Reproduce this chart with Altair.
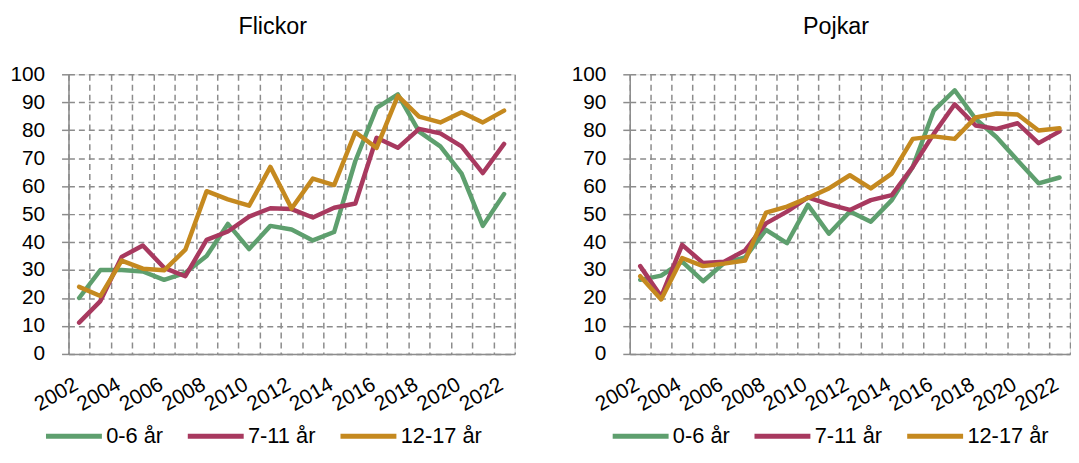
import altair as alt
import pandas as pd

years = list(range(2002, 2023))
groups = ["0-6 år", "7-11 år", "12-17 år"]
colors = ["#5E9F6E", "#A8395F", "#C5891F"]

flickor_0_6 = [20, 30, 30, 29.5, 26.5, 29, 35, 46.5, 37.5, 45.8, 44.5, 40.6, 43.6, 69, 88, 92.8, 79.5, 74.2, 64.5, 45.8, 57.2]
flickor_7_11 = [11.2, 18.9, 34.7, 38.8, 30.8, 27.8, 40.8, 43.8, 49.1, 52.1, 51.8, 48.8, 52.3, 53.8, 77.3, 73.7, 80.5, 78.9, 74.2, 64.7, 75.1]
flickor_12_17 = [24, 20.7, 33.4, 30.5, 29.9, 37.3, 58.2, 55.3, 53, 66.9, 52, 62.7, 60.4, 79.3, 73.7, 92.3, 84.9, 82.8, 86.4, 82.8, 87]

pojkar_0_6 = [26.5, 28, 33, 26, 32.5, 34.5, 44.4, 39.6, 53.3, 43, 50.9, 47.3, 55, 66.9, 87, 94.3, 84, 77.5, 69.2, 61, 63.1]
pojkar_7_11 = [31.4, 20.5, 39, 32.5, 33, 37, 46.7, 50.9, 56, 53.5, 51.5, 55, 56.8, 66.9, 78.7, 89.3, 81.7, 80.5, 82.5, 75.4, 79.6]
pojkar_12_17 = [27.8, 19.5, 34.3, 31.4, 32.3, 33.4, 50.5, 52.7, 55.8, 59.2, 63.9, 59.2, 64.5, 76.9, 77.8, 76.9, 84.6, 86, 85.6, 79.9, 80.7]

y_ticks = list(range(0, 101, 10))

FONT = "Liberation Sans"
GRID = "#8C8C8C"


def make_df(series):
    rows = []
    for g, vals in zip(groups, series):
        for yr, v in zip(years, vals):
            rows.append({"year": yr, "group": g, "value": v})
    return pd.DataFrame(rows)


def panel(df, title, width, title_dx, legend_x):
    return alt.Chart(df).mark_line(strokeWidth=4.5, strokeJoin="round", strokeCap="round").encode(
        x=alt.X(
            "year:O",
            scale=alt.Scale(type="band", paddingInner=0, paddingOuter=0),
            axis=alt.Axis(
                title=None,
                labelAngle=-30,
                labelAlign="right",
                labelBaseline="middle",
                labelExpr="datum.value % 2 == 0 ? datum.label : ''",
                labelOverlap=False,
                labelFontSize=21,
                labelFont=FONT,
                labelColor="black",
                labelPadding=29,
                labelOffset=-3,
                tickBand="extent",
                ticks=False,
                grid=True,
                gridDash=[6, 4],
                gridColor=GRID,
                gridWidth=1.5,
                domainColor=GRID,
                domainWidth=1.5,
            ),
        ),
        y=alt.Y(
            "value:Q",
            scale=alt.Scale(domain=[0, 100], nice=False),
            axis=alt.Axis(
                title=None,
                values=y_ticks,
                labelFontSize=21,
                labelFont=FONT,
                labelColor="black",
                labelPadding=17,
                tickSize=7,
                tickColor=GRID,
                tickWidth=1.5,
                grid=True,
                gridDash=[6, 4],
                gridColor=GRID,
                gridWidth=1.5,
                domainColor=GRID,
                domainWidth=1.5,
            ),
        ),
        color=alt.Color(
            "group:N",
            sort=groups,
            scale=alt.Scale(domain=groups, range=colors),
            legend=alt.Legend(
                title=None,
                orient="none",
                direction="horizontal",
                legendX=legend_x,
                legendY=354,
                symbolType="M-8.5,0H8.5",
                symbolSize=44,
                symbolStrokeWidth=5,
                labelFontSize=22,
                labelFont=FONT,
                labelColor="black",
                labelOffset=21.5,
                columnPadding=14,
            ),
        ),
    ).properties(
        width=width,
        height=282,
        title=alt.TitleParams(
            text=title,
            fontSize=23.5,
            font=FONT,
            fontWeight="normal",
            color="black",
            anchor="middle",
            frame="group",
            dx=title_dx,
            offset=25,
        ),
    )


left = panel(make_df([flickor_0_6, flickor_7_11, flickor_12_17]), "Flickor", 450, -19, -5.5)
right = panel(make_df([pojkar_0_6, pojkar_7_11, pojkar_12_17]), "Pojkar", 444, -14, 0)

chart = alt.hconcat(left, right, spacing=55).resolve_scale(color="independent").resolve_legend(
    color="independent"
).properties(
    padding={"left": 1, "right": 0, "top": 5, "bottom": 0}
).configure_view(stroke=None).configure(font=FONT)

chart.save("out.html", embed_options={"renderer": "svg", "actions": False})
